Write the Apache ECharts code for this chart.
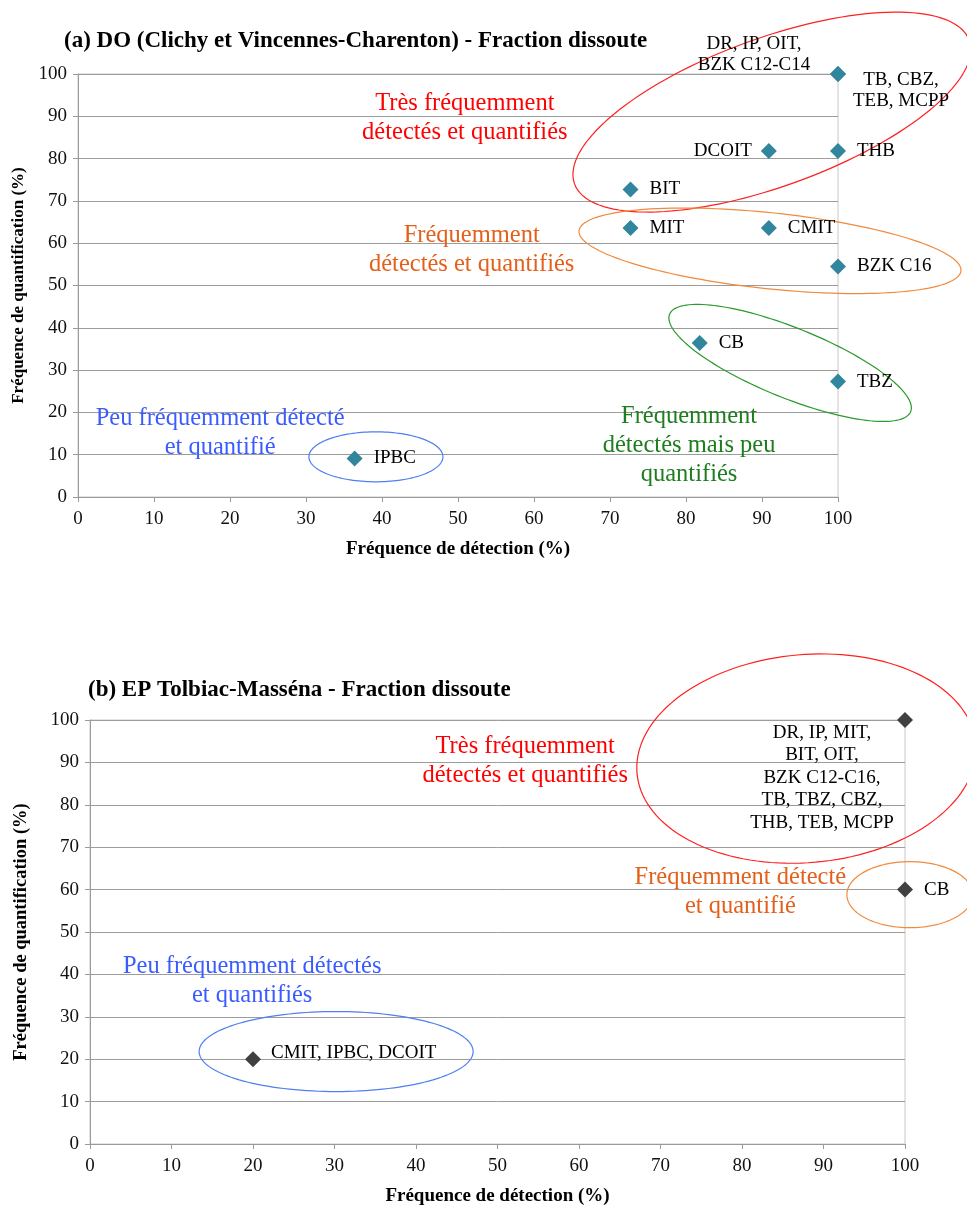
<!DOCTYPE html>
<html>
<head>
<meta charset="utf-8">
<script src="https://cdn.jsdelivr.net/npm/echarts@6/dist/echarts.min.js"></script>
<style>
  html, body { margin: 0; padding: 0; background: #fff; }
  #chart { width: 967px; height: 1207px; }
</style>
</head>
<body>
<div id="chart"></div>
<script>
// (a) DO (Clichy et Vincennes-Charenton) - one entry per label group
const labelsA = ['DR, IP, OIT,\nBZK C12-C14', 'TB, CBZ,\nTEB, MCPP', 'DCOIT', 'THB', 'BIT', 'MIT', 'CMIT', 'BZK C16', 'CB', 'TBZ', 'IPBC'];
const detectionA = [100, 100, 90.9, 100, 72.7, 72.7, 90.9, 100, 81.8, 100, 36.4];
const quantificationA = [100, 100, 81.8, 81.8, 72.7, 63.6, 63.6, 54.5, 36.4, 27.3, 9.1];

// (b) EP Tolbiac-Masséna
const labelsB = ['DR, IP, MIT,\nBIT, OIT,\nBZK C12-C16,\nTB, TBZ, CBZ,\nTHB, TEB, MCPP', 'CB', 'CMIT, IPBC, DCOIT'];
const detectionB = [100, 100, 20];
const quantificationB = [100, 60, 20];

const axisTicks = [0, 10, 20, 30, 40, 50, 60, 70, 80, 90, 100];

const titleA = '(a) DO (Clichy et Vincennes-Charenton) - Fraction dissoute';
const titleB = '(b) EP Tolbiac-Masséna - Fraction dissoute';
const xName = 'Fréquence de détection (%)';
const yName = 'Fréquence de quantification (%)';

// Group annotations: text, anchor (data coords), colour
const zonesA = [
  { text: 'Très fréquemment\ndétectés et quantifiés', at: [50.9, 89.6], color: '#ff0000' },
  { text: 'Fréquemment\ndétectés et quantifiés', at: [51.8, 58.4], color: '#e4601a' },
  { text: 'Peu fréquemment détecté\net quantifié', at: [18.7, 15.2], color: '#3a5cff' },
  { text: 'Fréquemment\ndétectés mais peu\nquantifiés', at: [80.4, 12.1], color: '#1e7d1e' }
];
const zonesB = [
  { text: 'Très fréquemment\ndétectés et quantifiés', at: [53.4, 90.2], color: '#ff0000' },
  { text: 'Fréquemment détecté\net quantifié', at: [79.8, 59.5], color: '#e4601a' },
  { text: 'Peu fréquemment détectés\net quantifiés', at: [19.9, 38.4], color: '#3a5cff' }
];

// Enclosing ellipses: centre in data coords, radii in px, tilt in degrees
const ellipsesA = [
  { c: [91.3, 91.0], rx: 210, ry: 74, tilt: 20, color: '#ff2020' },
  { c: [91.05, 58.2], rx: 192, ry: 38, tilt: -6, color: '#f08a3c' },
  { c: [93.7, 31.7], rx: 130, ry: 35, tilt: -22, color: '#2a9a2a' },
  { c: [39.2, 9.5], rx: 67, ry: 25, tilt: 0, color: '#4f7ff0' }
];
const ellipsesB = [
  { c: [87.9, 90.9], rx: 170, ry: 104, tilt: 5, color: '#ff2020' },
  { c: [100.6, 58.8], rx: 63, ry: 33, tilt: 0, color: '#f08a3c' },
  { c: [30.2, 21.8], rx: 137, ry: 40, tilt: 0, color: '#4f7ff0' }
];

const SERIF = '"Liberation Serif", "Times New Roman", serif';

// label placement per group
const placeA = {
  'DR, IP, OIT,\nBZK C12-C14': { position: 'inside', offset: [-84, -19], align: 'center', verticalAlign: 'middle' },
  'TB, CBZ,\nTEB, MCPP': { position: 'inside', offset: [63, 17], align: 'center', verticalAlign: 'middle' },
  'DCOIT': { position: 'left', distance: 9 }
};
const placeB = {
  [labelsB[0]]: { position: 'inside', offset: [-83, 58], align: 'center', verticalAlign: 'middle', lineHeight: 22.5 },
  'CMIT, IPBC, DCOIT': { position: 'right', distance: 10, offset: [0, -6] }
};

function buildData(det, quant, labels, place) {
  return det.map((x, i) => {
    const p = place[labels[i]] || { position: 'right', distance: 11 };
    return { value: [x, quant[i]], name: labels[i], label: Object.assign({}, p) };
  });
}

function xAxisCfg(gridIndex) {
  return {
    gridIndex, type: 'value', min: 0, max: 100, interval: 10,
    name: xName, nameLocation: 'middle', nameGap: 43,
    nameTextStyle: { fontFamily: SERIF, fontWeight: 'bold', fontSize: 19, color: '#000' },
    axisLine: { show: true, lineStyle: { color: '#9a9a9a', width: 1 } },
    axisTick: { show: true, inside: false, length: 5, lineStyle: { color: '#9a9a9a' } },
    axisLabel: { fontFamily: SERIF, fontSize: 19, color: '#111', margin: 13,
      formatter: v => axisTicks.includes(v) ? String(v) : '' },
    splitLine: { show: false }
  };
}
function yAxisCfg(gridIndex, gap, nameSize) {
  return {
    gridIndex, type: 'value', min: 0, max: 100, interval: 10,
    name: yName, nameLocation: 'middle', nameGap: gap, nameRotate: 90,
    nameTextStyle: { fontFamily: SERIF, fontWeight: 'bold', fontSize: nameSize, color: '#000' },
    axisLine: { show: true, lineStyle: { color: '#9a9a9a', width: 1 } },
    axisTick: { show: true, inside: false, length: 5, lineStyle: { color: '#9a9a9a' } },
    axisLabel: { fontFamily: SERIF, fontSize: 19, color: '#111', margin: 11,
      formatter: v => axisTicks.includes(v) ? String(v) : '' },
    splitLine: { show: true, lineStyle: { color: '#9c9c9c', width: 1 } }
  };
}

const chart = echarts.init(document.getElementById('chart'), null, { renderer: 'canvas' });

const pointLabel = { show: true, formatter: '{b}', fontFamily: SERIF, fontSize: 19, color: '#000', lineHeight: 21 };

chart.setOption({
  backgroundColor: '#fff',
  animation: false,
  title: [
    { text: titleA, left: 64, top: 30, padding: 0, textStyle: { fontFamily: SERIF, fontWeight: 'bold', fontSize: 23, color: '#000' } },
    { text: titleB, left: 88, top: 679, padding: 0, textStyle: { fontFamily: SERIF, fontWeight: 'bold', fontSize: 23, color: '#000' } }
  ],
  grid: [
    { left: 78, right: 129, top: 74, bottom: 710, show: true, borderColor: '#c8c8c8', borderWidth: 1, backgroundColor: 'transparent' },
    { left: 90, right: 62, top: 720, bottom: 60, show: true, borderColor: '#c8c8c8', borderWidth: 1, backgroundColor: 'transparent' }
  ],
  xAxis: [xAxisCfg(0), xAxisCfg(1)],
  yAxis: [yAxisCfg(0, 47, 17), yAxisCfg(1, 59, 18.5)],
  series: [
    {
      type: 'scatter', xAxisIndex: 0, yAxisIndex: 0,
      symbol: 'diamond', symbolSize: 16,
      itemStyle: { color: '#31859c', opacity: 1 },
      label: pointLabel,
      data: buildData(detectionA, quantificationA, labelsA, placeA),
      z: 5
    },
    {
      type: 'scatter', xAxisIndex: 1, yAxisIndex: 1,
      symbol: 'diamond', symbolSize: 16,
      itemStyle: { color: '#404040', opacity: 1 },
      label: pointLabel,
      data: buildData(detectionB, quantificationB, labelsB, placeB),
      z: 5
    }
  ]
});

// Annotation overlay: zone captions and the ellipses that enclose each group
function ellipsePoints(cx, cy, rx, ry, tiltDeg) {
  const t = tiltDeg * Math.PI / 180;
  const pts = [];
  for (let k = 0; k < 144; k++) {
    const a = k / 144 * Math.PI * 2;
    const ex = rx * Math.cos(a), ey = ry * Math.sin(a);
    pts.push([cx + ex * Math.cos(t) + ey * Math.sin(t), cy - ex * Math.sin(t) + ey * Math.cos(t)]);
  }
  return pts;
}

const overlay = [];
function addOverlay(gridIndex, zones, ellipses) {
  ellipses.forEach(e => {
    const p = chart.convertToPixel({ gridIndex }, e.c);
    overlay.push({
      type: 'polygon', silent: true, z: 3,
      shape: { points: ellipsePoints(p[0], p[1], e.rx, e.ry, e.tilt) },
      style: { fill: null, stroke: e.color, lineWidth: 1.2 }
    });
  });
  zones.forEach(zn => {
    const p = chart.convertToPixel({ gridIndex }, zn.at);
    overlay.push({
      type: 'text', silent: true, z: 4, x: p[0], y: p[1],
      style: {
        text: zn.text, fill: zn.color, fontFamily: SERIF, fontSize: 24.5, lineHeight: 29,
        textAlign: 'center', textVerticalAlign: 'middle', align: 'center', verticalAlign: 'middle'
      }
    });
  });
}
addOverlay(0, zonesA, ellipsesA);
addOverlay(1, zonesB, ellipsesB);
chart.setOption({ graphic: overlay });
</script>
</body>
</html>
